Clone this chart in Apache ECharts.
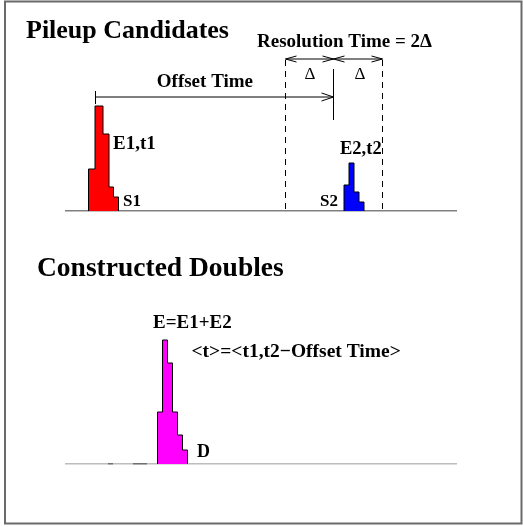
<!DOCTYPE html>
<html><head><meta charset="utf-8">
<script src="https://cdn.jsdelivr.net/npm/echarts@6/dist/echarts.min.js"></script>
<style>html,body{margin:0;padding:0;background:#fff}#c{width:523px;height:527px}</style>
</head><body><div id="c"></div>
<script>
// ---- data (time on x, amplitude on y) ----
const s1Edges = [88.5, 95, 103, 109, 113.5, 118.5];
const s1Amps  = [42, 105, 77, 24, 14];
const s2Edges = [344, 349, 354, 359, 364];
const s2Amps  = [26, 48, 19, 9];
const dEdges  = [157.5, 162.5, 167.5, 172.5, 177.5, 182.5, 187.5];
const dAmps   = [52, 124, 101, 52, 29, 14];
const timeAxisRange = [65, 457];
const residualSegments = [[108, 113], [133, 147]];
const offsetStart = 95.5;
const offsetEnd = 333.5;
const windowEdges = [285.5, 382.5];
const labels = {
  top: 'Pileup Candidates', bottom: 'Constructed Doubles',
  resolution: 'Resolution Time = 2\u0394', offset: 'Offset Time', delta: '\u0394',
  e1: 'E1,t1', s1: 'S1', e2: 'E2,t2', s2: 'S2',
  sum: 'E=E1+E2', tAvg: '<t>=<t1,t2\u2212Offset Time>', d: 'D'
};

const FONT = '"Liberation Serif", "Times New Roman", serif';
const chart = echarts.init(document.getElementById('c'), null, {renderer: 'canvas'});

function histSeries(name, edges, amps, color, g) {
  const data = [[edges[0], 0]];
  amps.forEach((a, i) => data.push([edges[i], a]));
  data.push([edges[edges.length - 1], 0]);
  return {
    type: 'line', name, xAxisIndex: g, yAxisIndex: g, data, step: 'end', symbol: 'none', silent: true,
    lineStyle: {color: '#000', width: 1},
    areaStyle: {color, opacity: 1, origin: 'start'},
    z: 3
  };
}

function head(tip, dir, len, half) {
  return {type: 'polyline', shape: {points: [[tip[0] - dir * len, tip[1] - half], tip, [tip[0] - dir * len, tip[1] + half]]},
    style: {stroke: '#000', lineWidth: 1, fill: null}};
}

const annotation = {
  type: 'custom', xAxisIndex: 0, yAxisIndex: 0, data: [[0, 0]], silent: true, clip: false,
  renderItem(params, api) {
    const ls = {stroke: '#000', lineWidth: 1, fill: null};
    const c = (t, a) => api.coord([t, a]);
    const L = (a, b, st) => ({type: 'line', shape: {x1: a[0], y1: a[1], x2: b[0], y2: b[1]}, style: st || ls});
    const dash = {stroke: '#000', lineWidth: 1, lineDash: [6, 5], fill: null};
    const ch = [];
    ch.push(L(c(offsetStart, 114), c(offsetEnd, 114)));
    ch.push(L(c(offsetStart, 120), c(offsetStart, 107)));
    ch.push(head(c(offsetEnd, 114), 1, 12, 4));
    ch.push(L(c(offsetEnd, 142), c(offsetEnd, 91)));
    windowEdges.forEach(w => ch.push(L(c(w, 151), c(w, 0), dash)));
    ch.push(L(c(windowEdges[0], 152), c(windowEdges[1], 152)));
    ch.push(head(c(windowEdges[0], 152), -1, 11, 3));
    ch.push(head(c(offsetEnd, 152), 1, 11, 3));
    ch.push(head(c(offsetEnd, 152), -1, 11, 3));
    ch.push(head(c(windowEdges[1], 152), 1, 11, 3));
    return {type: 'group', children: ch};
  }
};

function baseline(g, color) {
  return {type: 'line', xAxisIndex: g, yAxisIndex: g, symbol: 'none', silent: true,
    data: [[timeAxisRange[0], 0], [timeAxisRange[1], 0]], lineStyle: {color, width: 1}, z: 2};
}
function residual(seg) {
  return {type: 'line', xAxisIndex: 1, yAxisIndex: 1, symbol: 'none', silent: true,
    data: [[seg[0], 0], [seg[1], 0]], lineStyle: {color: '#222', width: 1}, z: 2};
}

function txt(text, x, y, size, opts) {
  opts = opts || {};
  return {type: 'text', x, y, silent: true,
    style: {text, fill: '#000', font: (opts.normal ? '' : 'bold ') + size + 'px ' + FONT,
      align: opts.align || 'left', verticalAlign: 'middle'}};
}

const option = {
  animation: false,
  backgroundColor: '#fff',
  grid: [
    {left: 0, top: 0, width: 523, height: 211},
    {left: 0, top: 0, width: 523, height: 464}
  ],
  xAxis: [
    {type: 'value', gridIndex: 0, min: 0, max: 523, show: false},
    {type: 'value', gridIndex: 1, min: 0, max: 523, show: false}
  ],
  yAxis: [
    {type: 'value', gridIndex: 0, min: 0, max: 211, show: false},
    {type: 'value', gridIndex: 1, min: 0, max: 464, show: false}
  ],
  series: [
    baseline(0, '#000'),
    baseline(1, '#7a7a7a'),
    ...residualSegments.map(residual),
    histSeries('S1', s1Edges, s1Amps, '#ff0000', 0),
    histSeries('S2', s2Edges, s2Amps, '#0000ff', 0),
    histSeries('D', dEdges, dAmps, '#ff00ff', 1),
    annotation
  ],
  graphic: [
    {type: 'rect', shape: {x: 5, y: 1.5, width: 516.5, height: 522}, style: {fill: null, stroke: '#6a6a6a', lineWidth: 2}, silent: true},
    txt(labels.top, 26, 31.5, 26),
    txt(labels.resolution, 257, 41.7, 19),
    txt(labels.offset, 253, 81.7, 19, {align: 'right'}),
    txt(labels.delta, 310, 74.5, 17, {align: 'center', normal: true}),
    txt(labels.delta, 360, 74.5, 17, {align: 'center', normal: true}),
    txt(labels.e1, 113, 143.7, 19),
    txt(labels.s1, 123, 201.4, 17),
    txt(labels.e2, 340, 149, 18.5),
    txt(labels.s2, 320, 201.4, 17),
    txt(labels.bottom, 37, 269, 27.5),
    txt(labels.sum, 153, 322.7, 19),
    txt(labels.tAvg, 191.5, 352, 19.5),
    txt(labels.d, 197, 452, 18)
  ]
};
chart.setOption(option);
</script></body></html>
